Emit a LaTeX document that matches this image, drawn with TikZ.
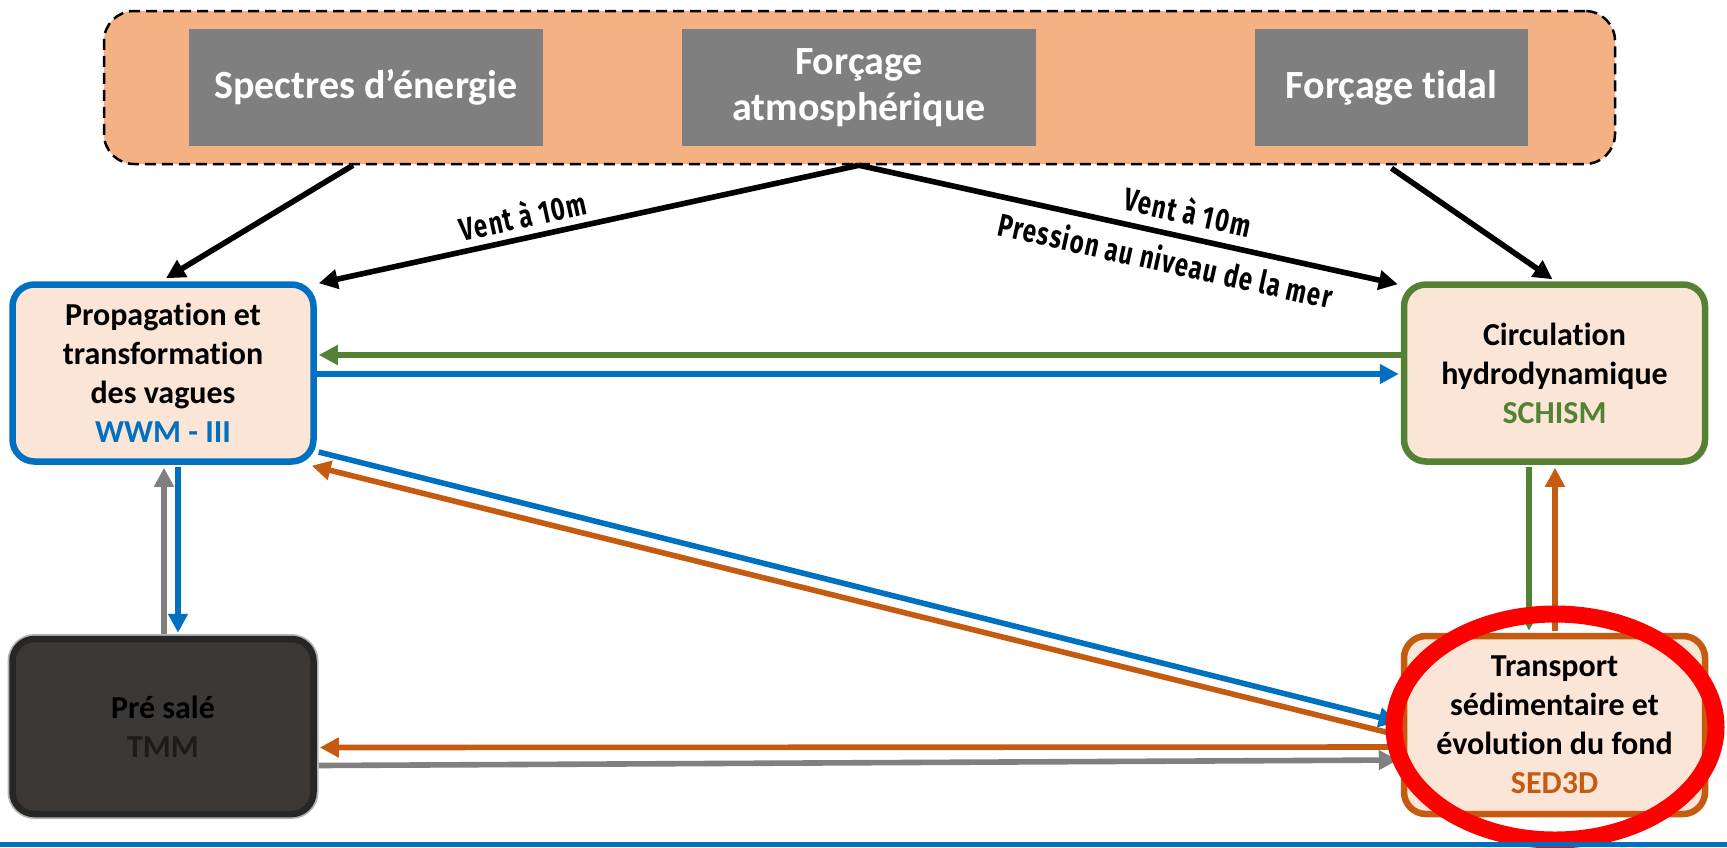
\documentclass[tikz,border=0pt]{standalone}
\usepackage{fontspec}
\setmainfont[Ligatures=NoCommon]{Carlito}
\newfontfamily\labfont[FakeStretch=0.75,LetterSpace=4]{Fira Sans}
\usetikzlibrary{arrows.meta,calc,shapes.geometric}
\definecolor{cOrFill}{HTML}{F4B183}
\definecolor{cGreyBox}{HTML}{7F7F7F}
\definecolor{cPeach}{HTML}{FBE5D6}
\definecolor{cBlue}{HTML}{0070C0}
\definecolor{cGreen}{HTML}{548235}
\definecolor{cOrange}{HTML}{C55A11}
\definecolor{cGrey}{HTML}{808080}
\definecolor{cDark}{HTML}{3B3835}
\definecolor{cDarkEdge}{HTML}{262626}
\definecolor{cDarkText}{HTML}{1C1C1C}
\begin{document}
\begin{tikzpicture}[x=0.5pt,y=-0.5pt,
  model/.style={rectangle, rounded corners=11pt, line width=3.25pt, fill=cPeach,
    minimum width=150.5pt, minimum height=88.5pt, align=center,
    font=\bfseries\fontsize{16}{19.5}\selectfont, inner sep=0pt},
  src/.style={rectangle, fill=cGreyBox, text=white, align=center,
    font=\bfseries\fontsize{20}{23}\selectfont, inner sep=0pt, minimum height=58.5pt},
  arr/.style={line width=2.8pt, -{Triangle[length=9.5pt,width=9.5pt]}},
  lab/.style={font=\labfont\bfseries\fontsize{16}{18}\selectfont, sloped, inner sep=1pt},
]
\useasboundingbox (0,0) rectangle (1727,847);

% forcing frame
\node[draw=black, dashed, dash pattern=on 5.5pt off 3pt, line width=1.25pt,
      fill=cOrFill, rounded corners=15pt, minimum width=755.5pt, minimum height=76.5pt,
      inner sep=0pt] (top) at (859.5,87.5) {};
\node[src, minimum width=177pt] (spec) at (366,87.5) {Spectres d’énergie};
\node[src, minimum width=177pt] (atm) at (859,87.5) {Forçage\\atmosphérique};
\node[src, minimum width=136.5pt] (tid) at (1391.5,87.5) {Forçage tidal};

% models
\node[model, draw=cBlue] (wwm) at (163,373)
  {Propagation et\\transformation\\des vagues\\\textcolor{cBlue}{WWM - III}};
\node[model, draw=cGreen] (sch) at (1554.5,373)
  {Circulation\\hydrodynamique\\\textcolor{cGreen}{SCHISM}};
\node[model, draw=cDarkEdge, fill=cDark, minimum height=87.5pt,
      preaction={draw=gray!60, line width=5pt}] (tmm) at (163,726.5)
  {Pré salé\\\textcolor{cDarkText}{TMM}};
\node[model, draw=cOrange, minimum height=89pt] (sed) at (1554.5,725)
  {Transport\\sédimentaire et\\évolution du fond\\\textcolor{cOrange}{SED3D}};

% forcing arrows
\coordinate (aout) at (top.south -| atm);
\draw[arr] ($(top.south -| spec)+(-13,0)$) -- ($(wwm.north)+(3,-3)$);
\draw[arr] (aout) -- node[lab, pos=0.613, above=2.5pt] {Vent à 10m} ($(wwm.north east)+(2,2)$);
\draw[arr] (aout) -- node[lab, pos=0.6, above=4pt] {Vent à 10m}
                     node[lab, pos=0.58, below=4pt] {Pression au niveau de la mer}
                     ($(sch.north west)+(-3,3)$);
\draw[arr] ($(top.south -| tid)+(0,3)$) -- ($(sch.north)+(-2,-2)$);

% coupling arrows
\draw[arr, cGreen] ($(sch.west)+(0,-18)$) -- ($(wwm.east)+(2,-18)$);
\draw[arr, cBlue] ($(wwm.east)+(0,1)$) -- ($(sch.west)+(-2,1)$);
\draw[arr, cBlue] ($(wwm.east)+(2,79)$) -- ($(sed.west)+(-3,-3)$);
\draw[arr, cOrange] ($(sed.west)+(-3,10)$) -- ($(wwm.south east)+(-5,1)$);
\draw[arr, cBlue] ($(wwm.south)+(15,2)$) -- ($(tmm.north)+(15,-3)$);
\draw[arr, cGrey] ($(tmm.north)+(1,-2)$) -- ($(wwm.south)+(1,3)$);
\draw[arr, cOrange] ($(sed.west)+(-2,22)$) -- ($(tmm.east)+(3,21)$);
\draw[arr, cGrey] ($(tmm.east)+(2,39)$) -- ($(sed.west)+(-3,35)$);
\draw[arr, cGreen] ($(sch.south)+(-25.5,2)$) -- ($(sed.north)+(-25.5,-2)$);
\draw[arr, cOrange] ($(sed.north)+(0.5,-2)$) -- ($(sch.south)+(0.5,3)$);

% highlight
\node[ellipse, draw=red, line width=8.5pt, minimum width=161pt, minimum height=113pt,
      inner sep=0pt] (hl) at (1555,727) {};

% bottom rule
\draw[cBlue, line width=2.5pt] (0,844.5) -- (1727,844.5);
\end{tikzpicture}
\end{document}
